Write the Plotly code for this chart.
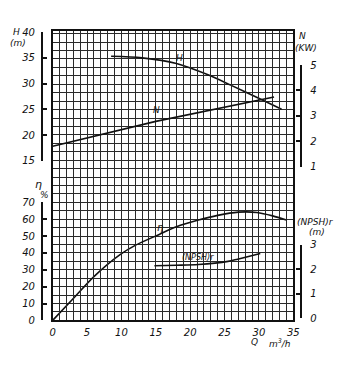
import plotly.graph_objects as go

# Pump performance data, flow Q in m3/h
q_head = [8.5, 13.0, 18.0, 22.6, 25.9, 30.2, 33.3]
head_m = [35.3, 35.0, 33.9, 31.7, 29.7, 27.0, 25.0]

q_power = [0.0, 15.0, 32.2]
power_kw = [1.80, 2.78, 3.74]

q_eff = [0, 3, 6, 9.8, 12, 15.5, 18, 21.2, 24, 27, 29.7, 32, 34]
eff_pct = [0, 13, 26, 39, 44.5, 51, 55.5, 59.5, 62.3, 64.2, 64, 62, 59.5]

q_npsh = [14.8, 18.0, 21.2, 25.5, 26.9, 30.2]
npsh_m = [2.15, 2.17, 2.2, 2.33, 2.42, 2.65]

q_ticks = [0, 5, 10, 15, 20, 25, 30, 35]
h_ticks = [15, 20, 25, 30, 35, 40]
n_ticks = [1, 2, 3, 4, 5]
eff_ticks = [0, 10, 20, 30, 40, 50, 60, 70]
npsh_ticks = [0, 1, 2, 3]

W, H = 348, 368
FONT = "DejaVu Sans"
INK = "#111111"


def fx(px):
    return px / W


def fy(py):
    return (H - py) / H


tick_font = dict(family=FONT, size=10, color=INK, style="italic")

fig = go.Figure()
line_style = dict(color=INK, width=1.6, shape="spline", smoothing=0.8)
fig.add_trace(go.Scatter(x=q_head, y=head_m, mode="lines", line=line_style, yaxis="y3", hoverinfo="skip"))
fig.add_trace(go.Scatter(x=q_power, y=power_kw, mode="lines", line=dict(color=INK, width=1.6), yaxis="y4", hoverinfo="skip"))
fig.add_trace(go.Scatter(x=q_eff, y=eff_pct, mode="lines", line=line_style, yaxis="y2", hoverinfo="skip"))
fig.add_trace(go.Scatter(x=q_npsh, y=npsh_m, mode="lines", line=line_style, yaxis="y5", hoverinfo="skip"))
# background grid axis
fig.add_trace(go.Scatter(x=[0], y=[0], mode="markers", marker=dict(opacity=0), yaxis="y", hoverinfo="skip"))

grid_col = "#2a2a2a"
side_axis = dict(
    anchor="free", showline=True, linecolor=INK, linewidth=2.2,
    ticks="inside", ticklen=4, tickwidth=2, tickcolor=INK,
    showgrid=False, zeroline=False, tickfont=tick_font, ticklabelstandoff=4,
)

fig.update_layout(
    width=W, height=H,
    margin=dict(l=0, r=0, t=0, b=0),
    paper_bgcolor="white", plot_bgcolor="rgba(0,0,0,0)",
    showlegend=False,
    xaxis=dict(
        domain=[fx(51), fx(298)], range=[0, 35], anchor="y",
        tickvals=q_ticks, ticks="", tickfont=tick_font, ticklabelstandoff=2,
        showgrid=True, gridcolor=grid_col, gridwidth=1.2,
        minor=dict(dtick=1, showgrid=True, gridcolor=grid_col, gridwidth=1.2),
        showline=True, linecolor=INK, linewidth=2, mirror=True, zeroline=False,
    ),
    yaxis=dict(
        domain=[fy(325), fy(26)], range=[0, 171.5], dtick=5,
        showticklabels=False, ticks="",
        showgrid=True, gridcolor=grid_col, gridwidth=1.2,
        showline=True, linecolor=INK, linewidth=2, mirror=True, zeroline=False,
    ),
    yaxis2=dict(side_axis, domain=[fy(325), fy(203)], range=[0, 70], tickvals=eff_ticks,
                side="left", position=fx(40)),
    yaxis3=dict(side_axis, domain=[fy(160), fy(27)], range=[15, 40], tickvals=h_ticks,
                side="left", position=fx(40)),
    yaxis4=dict(side_axis, domain=[fy(166), fy(61)], range=[1, 5], tickvals=n_ticks,
                side="right", position=fx(306), ticklabelstandoff=6),
    yaxis5=dict(side_axis, domain=[fy(323), fy(247)], range=[0, 3], tickvals=npsh_ticks,
                side="right", position=fx(306), ticklabelstandoff=6),
)


def label(text, x, y, size=10, anchor="center"):
    fig.add_annotation(
        text=text, x=fx(x), y=fy(y), xref="paper", yref="paper",
        showarrow=False, xanchor=anchor, yanchor="middle",
        font=dict(family=FONT, size=size, color=INK, style="italic"),
    )


# axis titles
label("H", 14, 27, size=9)
label("(m)", 15, 38, size=9)
label("η", 36, 184, size=11)
label("%", 43, 195, size=9)
label("N", 307, 31, size=9)
label("(KW)", 311, 43, size=9)
label("(NPSH)r", 300, 223, size=9, anchor="left")
label("(m)", 312, 234, size=9, anchor="left")
label("Q", 258, 347, size=9)
label("m<sup>3</sup>/h", 284, 348, size=9)

# curve labels
label("H", 181, 54, size=9)
label("N", 158, 107, size=9)
label("η", 161, 229, size=10)
label("(NPSH)r", 200, 260, size=8)

fig.write_html("out.html")
